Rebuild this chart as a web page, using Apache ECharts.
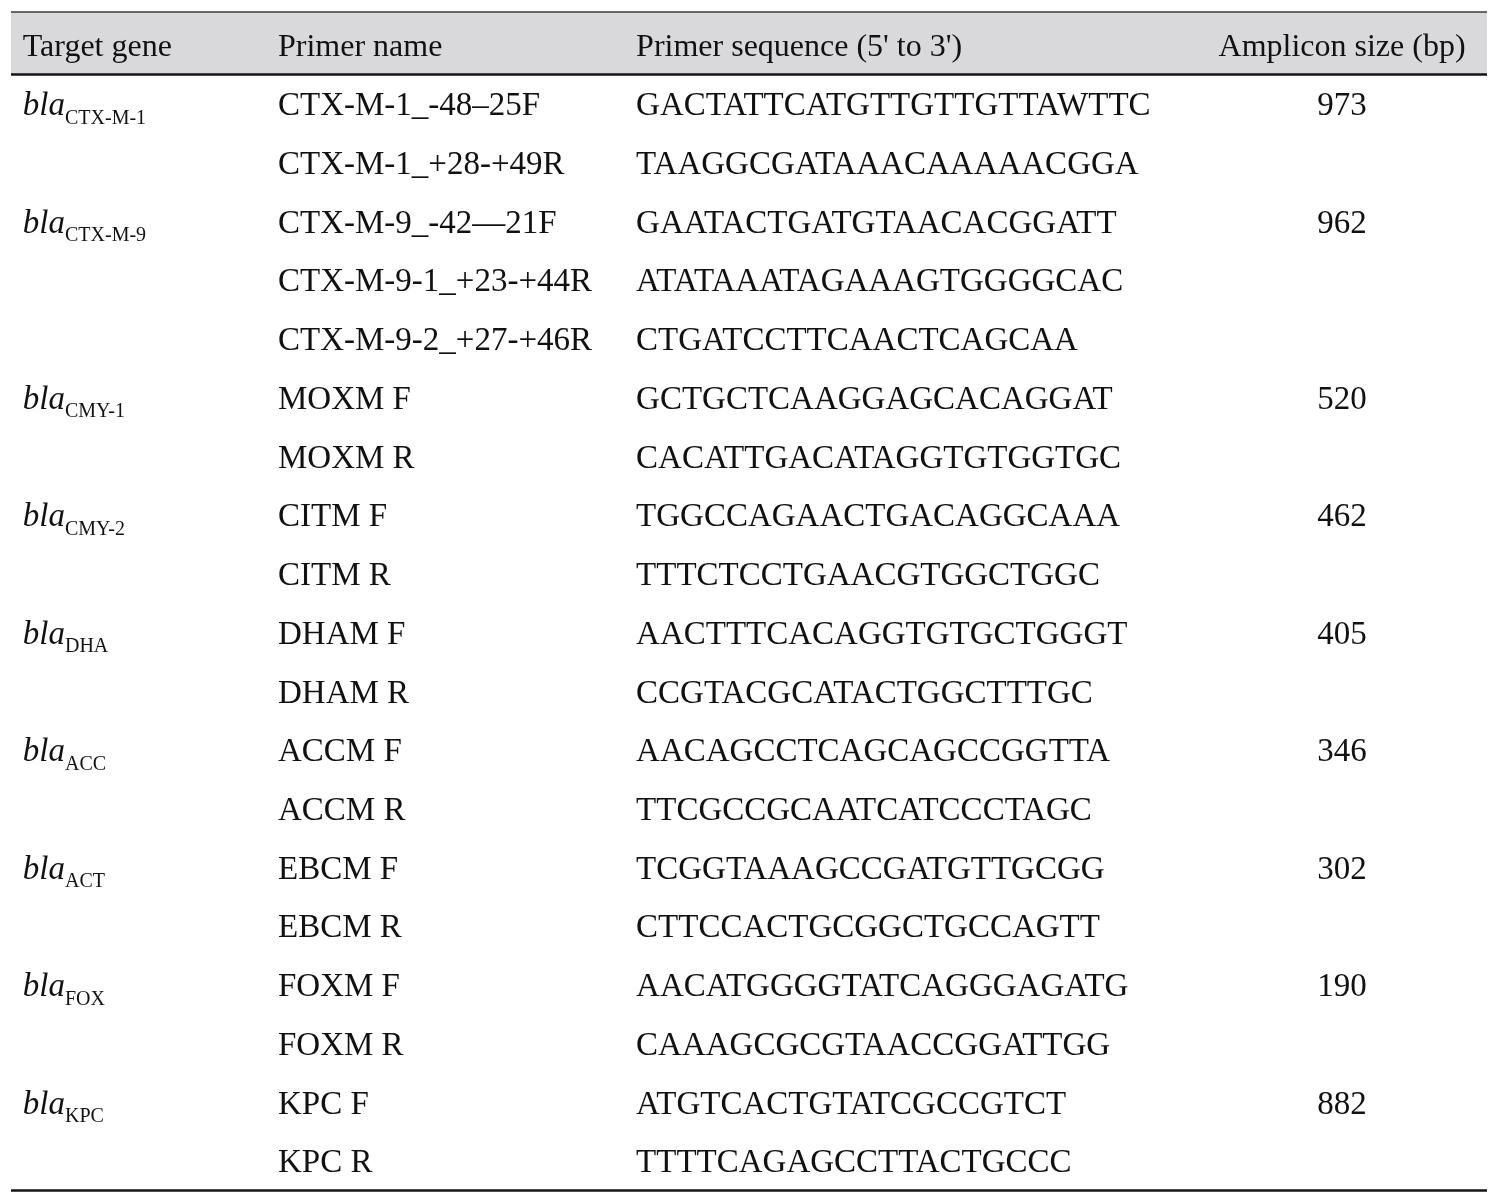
<!DOCTYPE html>
<html><head><meta charset="utf-8">
<script src="https://cdn.jsdelivr.net/npm/echarts@6/dist/echarts.min.js"></script>
<style>html,body{margin:0;padding:0;background:#fff}#c{width:1508px;height:1202px}</style>
</head><body><div id="c"></div>
<script>
// ---- data ----
const headers = ['Target gene', 'Primer name', "Primer sequence (5' to 3')", 'Amplicon size (bp)'];
const targetGenes = ['CTX-M-1', 'CTX-M-9', 'CMY-1', 'CMY-2', 'DHA', 'ACC', 'ACT', 'FOX', 'KPC'];
const primersPerGene = [2, 3, 2, 2, 2, 2, 2, 2, 2];
const ampliconSizes = [973, 962, 520, 462, 405, 346, 302, 190, 882];
const primerNames = [
  'CTX-M-1_-48\u201325F', 'CTX-M-1_+28-+49R',
  'CTX-M-9_-42\u201421F', 'CTX-M-9-1_+23-+44R', 'CTX-M-9-2_+27-+46R',
  'MOXM F', 'MOXM R', 'CITM F', 'CITM R', 'DHAM F', 'DHAM R',
  'ACCM F', 'ACCM R', 'EBCM F', 'EBCM R', 'FOXM F', 'FOXM R', 'KPC F', 'KPC R'
];
const primerSequences = [
  'GACTATTCATGTTGTTGTTAWTTC', 'TAAGGCGATAAACAAAAACGGA',
  'GAATACTGATGTAACACGGATT', 'ATATAAATAGAAAGTGGGGCAC', 'CTGATCCTTCAACTCAGCAA',
  'GCTGCTCAAGGAGCACAGGAT', 'CACATTGACATAGGTGTGGTGC',
  'TGGCCAGAACTGACAGGCAAA', 'TTTCTCCTGAACGTGGCTGGC',
  'AACTTTCACAGGTGTGCTGGGT', 'CCGTACGCATACTGGCTTTGC',
  'AACAGCCTCAGCAGCCGGTTA', 'TTCGCCGCAATCATCCCTAGC',
  'TCGGTAAAGCCGATGTTGCGG', 'CTTCCACTGCGGCTGCCAGTT',
  'AACATGGGGTATCAGGGAGATG', 'CAAAGCGCGTAACCGGATTGG',
  'ATGTCACTGTATCGCCGTCT', 'TTTTCAGAGCCTTACTGCCC'
];

// ---- layout ----
const colAnchor = [0.008, 0.1809, 0.4235, 0.9018];
const FONT = '"Liberation Serif","Times New Roman",Times,serif';
const INK = '#111111';

const geneRows = [];
let rr = 1;
primersPerGene.forEach(n => { geneRows.push(rr); rr += n; });

const headerData = headers.map((h, i) => [colAnchor[i], 0, h]);
const geneData = targetGenes.map((g, i) => [colAnchor[0], geneRows[i], g]);
const nameData = primerNames.map((n, i) => [colAnchor[1], i + 1, n]);
const seqData = primerSequences.map((s, i) => [colAnchor[2], i + 1, s]);
const sizeData = ampliconSizes.map((v, i) => [colAnchor[3], geneRows[i], String(v)]);

function textSeries(data, pos, fontSize, extraLabel) {
  return {
    type: 'scatter', data: data, symbolSize: 0, silent: true, animation: false,
    itemStyle: { opacity: 1 },
    label: Object.assign({
      show: true, position: pos, distance: 0, color: INK, opacity: 1,
      fontFamily: FONT, fontSize: fontSize, offset: [0, 3],
      formatter: p => p.value[2]
    }, extraLabel || {})
  };
}

const chart = echarts.init(document.getElementById('c'), null, { renderer: 'canvas' });
const headerSeries = textSeries(headerData.slice(0, 3), 'right', 32);
headerSeries.markArea = {
  silent: true,
  itemStyle: { color: '#d9d9db' },
  data: [[{ yAxis: -0.56 }, { yAxis: 0.5 }]]
};
headerSeries.markLine = {
  silent: true, symbol: ['none', 'none'], label: { show: false },
  data: [
    { yAxis: -0.56, lineStyle: { width: 1.5, color: '#3a3a3a', type: 'solid' } },
    { yAxis: 0.5, lineStyle: { width: 2.5, color: '#151515', type: 'solid' } },
    { yAxis: 19.5, lineStyle: { width: 2.5, color: '#151515', type: 'solid' } }
  ]
};

chart.setOption({
  animation: false,
  backgroundColor: '#ffffff',
  grid: { left: 11, right: 21, top: 12, bottom: 12 },
  xAxis: { type: 'value', min: 0, max: 1, show: false },
  yAxis: { type: 'value', inverse: true, min: -0.56, max: 19.5, show: false },
  series: [
    headerSeries,
    textSeries(headerData.slice(3), 'inside', 32),
    textSeries(geneData, 'right', 33, {
      offset: [0, 3],
      formatter: p => '{i|bla}{s|' + p.value[2] + '}',
      rich: {
        i: { fontFamily: FONT, fontSize: 33, fontStyle: 'italic', color: INK, lineHeight: 32 },
        s: { fontFamily: FONT, fontSize: 20, color: INK, lineHeight: 20, padding: [24, 0, 0, 0] }
      }
    }),
    textSeries(nameData, 'right', 33),
    textSeries(seqData, 'right', 33),
    textSeries(sizeData, 'inside', 33)
  ]
});
</script>
</body></html>
